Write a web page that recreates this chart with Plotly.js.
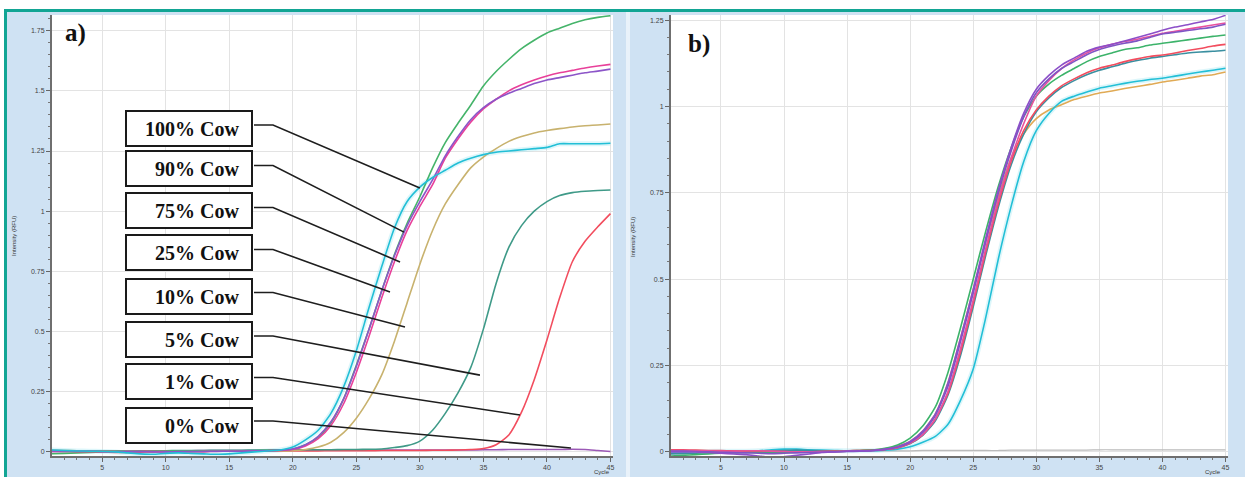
<!DOCTYPE html>
<html>
<head>
<meta charset="utf-8">
<script src="https://cdn.plot.ly/plotly-3.0.1.min.js"></script>
<style>
html,body{margin:0;padding:0;background:#ffffff;}
#chart{width:1245px;height:477px;}
</style>
</head>
<body>
<div id="chart"></div>
<script>
// ---------- data ----------
const cycles = [1,2,3,4,5,6,7,8,9,10,11,12,13,14,15,16,17,18,19,20,21,22,23,24,25,26,27,28,29,30,31,32,33,34,35,36,37,38,39,40,41,42,43,44,45];
const xTickVals = [5,10,15,20,25,30,35,40,45];

// panel a) dilution series
const a_cyan = [0.008,0.006,0.004,0.003,0.002,0.000,-0.004,-0.008,-0.010,-0.006,-0.004,-0.006,-0.008,-0.010,-0.008,-0.004,0.000,0.004,0.008,
  0.02,0.05,0.09,0.16,0.27,0.42,0.60,0.77,0.93,1.04,1.10,1.14,1.17,1.20,1.22,1.235,1.245,1.25,1.255,1.26,1.265,1.28,1.28,1.28,1.28,1.282];
const a_purple = [0.004,0.004,0.003,0.003,0.002,0.002,0.001,0.001,0.000,0.000,0.001,0.002,0.002,0.003,0.003,0.003,0.004,0.005,0.007,
  0.012,0.03,0.065,0.125,0.22,0.355,0.51,0.67,0.815,0.94,1.04,1.13,1.23,1.31,1.38,1.43,1.465,1.49,1.51,1.53,1.545,1.555,1.565,1.575,1.582,1.59];
const a_magenta = [0.002,0.002,0.001,0.001,0.000,0.000,0.001,0.002,0.002,0.001,0.000,0.000,0.001,0.002,0.003,0.003,0.004,0.005,0.006,
  0.01,0.025,0.055,0.11,0.2,0.33,0.48,0.64,0.79,0.92,1.02,1.11,1.22,1.3,1.37,1.425,1.465,1.5,1.525,1.545,1.562,1.575,1.585,1.595,1.603,1.61];
const a_green = [-0.008,-0.006,-0.004,-0.002,0.0,0.002,0.002,0.003,0.003,0.004,0.004,0.003,0.003,0.004,0.004,0.005,0.005,0.006,0.007,
  0.012,0.03,0.06,0.12,0.22,0.36,0.51,0.67,0.82,0.95,1.06,1.18,1.285,1.365,1.44,1.52,1.58,1.63,1.675,1.71,1.74,1.76,1.78,1.795,1.805,1.812];
const a_tan = [0.004,0.004,0.004,0.003,0.003,0.003,0.003,0.002,0.002,0.002,0.002,0.002,0.002,0.003,0.003,0.003,0.003,0.004,0.004,0.005,
  0.01,0.02,0.04,0.08,0.14,0.22,0.32,0.46,0.62,0.78,0.92,1.03,1.11,1.18,1.225,1.26,1.29,1.31,1.325,1.335,1.343,1.35,1.355,1.358,1.362];
const a_teal = [0.006,0.006,0.005,0.005,0.005,0.004,0.004,0.004,0.005,0.005,0.006,0.006,0.006,0.007,0.007,0.007,0.008,0.008,0.008,0.008,0.009,0.009,0.009,0.01,0.01,0.011,
  0.012,0.018,0.026,0.045,0.09,0.16,0.245,0.35,0.51,0.7,0.85,0.94,1.0,1.04,1.065,1.077,1.083,1.086,1.088];
const a_red = [0.006,0.005,0.004,0.002,0.0,-0.002,-0.002,-0.001,0.0,0.001,0.002,0.002,0.002,0.003,0.003,0.003,0.003,0.003,0.004,0.004,0.004,0.004,0.005,0.005,0.005,0.005,0.006,0.006,0.006,0.006,0.007,0.007,
  0.008,0.01,0.014,0.03,0.07,0.165,0.3,0.465,0.64,0.79,0.875,0.935,0.99];
const a_zero = [0.002,0.002,0.003,0.003,0.004,0.004,0.004,0.005,0.005,0.005,0.005,0.005,0.006,0.006,0.006,0.006,0.006,0.006,0.007,0.007,
  0.007,0.007,0.007,0.007,0.008,0.008,0.008,0.008,0.008,0.008,0.008,0.008,0.008,0.008,0.009,0.009,0.01,0.01,0.01,0.01,0.01,0.011,0.01,0.006,0.002];

// panel b) replicates
const b_green = [-0.012,-0.01,-0.008,-0.006,-0.004,-0.003,-0.002,-0.002,-0.002,-0.002,-0.001,0.0,0.0,0.001,0.002,0.003,0.005,
  0.01,0.02,0.04,0.075,0.13,0.23,0.36,0.5,0.64,0.77,0.88,0.97,1.03,1.065,1.09,1.11,1.13,1.145,1.155,1.165,1.17,1.178,1.183,1.188,1.193,1.198,1.203,1.207];
const b_purple1 = [0.0,0.0,0.0,-0.002,-0.004,-0.006,-0.008,-0.012,-0.016,-0.014,-0.01,-0.006,-0.002,0.0,0.002,0.003,0.004,
  0.008,0.015,0.03,0.06,0.11,0.2,0.33,0.47,0.62,0.76,0.88,0.98,1.05,1.09,1.12,1.14,1.16,1.172,1.18,1.19,1.2,1.21,1.221,1.23,1.237,1.245,1.252,1.264];
const b_purple2 = [0.002,0.002,0.001,0.0,-0.001,-0.002,-0.003,-0.004,-0.005,-0.004,-0.003,-0.002,-0.001,0.0,0.001,0.002,0.003,
  0.007,0.014,0.028,0.056,0.105,0.19,0.32,0.46,0.61,0.75,0.87,0.97,1.04,1.08,1.11,1.13,1.15,1.165,1.175,1.183,1.19,1.2,1.21,1.215,1.22,1.225,1.23,1.238];
const b_pink = [0.004,0.004,0.003,0.003,0.002,0.002,0.003,0.003,0.002,0.001,0.0,0.0,0.001,0.001,0.002,0.003,0.004,
  0.007,0.013,0.026,0.05,0.095,0.175,0.3,0.44,0.59,0.73,0.85,0.95,1.03,1.075,1.11,1.135,1.155,1.17,1.18,1.188,1.195,1.203,1.212,1.218,1.224,1.23,1.236,1.242];
const b_red = [0.006,0.006,0.005,0.004,0.004,0.003,0.002,0.002,0.001,0.001,0.0,0.0,0.001,0.002,0.003,0.004,0.005,
  0.007,0.012,0.025,0.05,0.095,0.17,0.29,0.43,0.58,0.72,0.84,0.93,0.99,1.03,1.06,1.08,1.098,1.111,1.12,1.13,1.138,1.145,1.149,1.155,1.162,1.168,1.175,1.18];
const b_teal = [-0.006,-0.005,-0.004,-0.003,-0.002,-0.002,-0.001,0.0,0.002,0.004,0.005,0.004,0.003,0.003,0.003,0.004,0.005,
  0.007,0.012,0.024,0.048,0.09,0.165,0.28,0.42,0.57,0.71,0.83,0.92,0.985,1.025,1.055,1.075,1.092,1.105,1.115,1.125,1.133,1.14,1.145,1.15,1.155,1.158,1.16,1.163];
const b_cyan = [0.0,0.0,0.001,0.001,0.002,0.002,0.002,0.003,0.006,0.008,0.008,0.006,0.005,0.004,0.003,0.003,0.003,
  0.005,0.008,0.015,0.028,0.045,0.08,0.15,0.24,0.39,0.56,0.71,0.84,0.93,0.98,1.015,1.03,1.042,1.053,1.06,1.067,1.073,1.078,1.082,1.088,1.094,1.1,1.105,1.111];
const b_tan = [0.003,0.003,0.003,0.002,0.002,0.002,0.002,0.002,0.002,0.002,0.002,0.002,0.002,0.003,0.003,0.004,0.005,
  0.009,0.016,0.03,0.06,0.11,0.2,0.33,0.47,0.61,0.74,0.85,0.92,0.965,0.99,1.005,1.02,1.03,1.039,1.045,1.052,1.058,1.064,1.071,1.076,1.082,1.088,1.092,1.1];
const b_ntc = [0.003,0.003,0.003,0.003,0.003,0.003,0.003,0.003,0.003,0.003,0.003,0.003,0.003,0.003,0.003,0.003,0.003,0.003,0.003,0.003,
  0.004,0.004,0.004,0.004,0.004,0.004,0.004,0.005,0.005,0.005,0.005,0.005,0.005,0.005,0.006,0.006,0.006,0.006,0.006,0.006,0.006,0.006,0.006,0.006,0.006];

// leader labels (panel a)
const annotLabels = ['100% Cow','90% Cow','75% Cow','25% Cow','10% Cow','5% Cow','1% Cow','0% Cow'];
const annotTargetCycle = [30.0, 28.75, 28.44, 27.65, 28.83, 34.73, 37.88, 41.89];
const annotTargetValue = [1.096, 0.913, 0.789, 0.664, 0.519, 0.319, 0.153, 0.016];

// ---------- layout helpers (pixel geometry of the page) ----------
const W = 1245, H = 477;
const plotTop = 15, plotBot = 456;
const axA = {x0: 52, x1: 613, r: [1.05, 45.2], yr: [-0.017, 1.815]};
const axB = {x0: 671, x1: 1228, r: [1.04, 45.2], yr: [-0.012, 1.265]};
const pxToCycA = px => axA.r[0] + (px - axA.x0) * (axA.r[1] - axA.r[0]) / (axA.x1 - axA.x0);
const pyToValA = py => axA.yr[0] + (plotBot - py) * (axA.yr[1] - axA.yr[0]) / (plotBot - plotTop);

const boxCenterX = 189;
const boxCenterY = [128, 168.5, 210.5, 252.5, 296, 339.5, 381.5, 425];
const leaderY = [125, 165.5, 207.5, 249.5, 292.5, 336, 377.5, 421];
const leaderStartX = 254, leaderBendX = 273;

// ---------- traces ----------
function tr(y, color, ax, w, op) {
  return {x: cycles, y: y, type: 'scatter', mode: 'lines', xaxis: ax === 'b' ? 'x2' : 'x', yaxis: ax === 'b' ? 'y2' : 'y',
    line: {color: color, width: w || 1.6, shape: 'spline', smoothing: 0.6}, opacity: op || 1, hoverinfo: 'skip', showlegend: false};
}
const data = [
  // halos (blurred look of the original scan)
  tr(a_cyan, '#8fe0ee', 'a', 5, 0.3),
  tr(b_cyan, '#8fe0ee', 'b', 5, 0.3),
  tr(a_zero, '#9b59b6', 'a'),
  tr(a_red, '#f24d5e', 'a'),
  tr(a_teal, '#3f9a88', 'a'),
  tr(a_tan, '#c8b26e', 'a'),
  tr(a_green, '#45b46a', 'a'),
  tr(a_magenta, '#e8409a', 'a'),
  tr(a_purple, '#8c55c8', 'a'),
  tr(a_cyan, '#22bfd6', 'a'),
  tr(b_ntc, '#bbbbbb', 'b', 1.2),
  tr(b_tan, '#e0aa55', 'b'),
  tr(b_cyan, '#22bfd6', 'b'),
  tr(b_teal, '#3a8fa0', 'b'),
  tr(b_red, '#f24d5e', 'b'),
  tr(b_green, '#3cb36a', 'b'),
  tr(b_pink, '#e8509e', 'b'),
  tr(b_purple2, '#7f55c4', 'b'),
  tr(b_purple1, '#8c4fc8', 'b')
];

// ---------- axes ----------
const tickFont = {family: 'Liberation Sans, Arial, sans-serif', size: 7, color: '#444'};
function xAxis(a, anchor) {
  return {domain: [a.x0 / W, a.x1 / W], range: a.r, anchor: anchor, tickmode: 'array', tickvals: xTickVals,
    ticks: 'outside', ticklen: 4, tickwidth: 1, tickcolor: '#666', showline: true, linecolor: '#6f6f6f', linewidth: 2,
    showgrid: true, gridcolor: '#e3e3e3', gridwidth: 1, zeroline: false, tickfont: tickFont,
    minor: {dtick: 1, tick0: 0, ticks: 'outside', ticklen: 2, tickcolor: '#777', showgrid: false}, fixedrange: true};
}
function yAxis(a, anchor) {
  return {domain: [1 - plotBot / H, 1 - plotTop / H], range: a.yr, anchor: anchor, tick0: 0, dtick: 0.25,
    ticks: 'outside', ticklen: 4, tickwidth: 1, tickcolor: '#666', showline: true, linecolor: '#6f6f6f', linewidth: 2,
    showgrid: true, gridcolor: '#e3e3e3', gridwidth: 1, zeroline: false, tickfont: tickFont,
    minor: {dtick: 0.05, tick0: 0, ticks: 'outside', ticklen: 2, tickcolor: '#777', showgrid: false}, fixedrange: true};
}

// ---------- decorations ----------
const shapes = [
  {type: 'rect', xref: 'paper', yref: 'paper', x0: 0, x1: 1, y0: 1 - 9 / H, y1: 1, fillcolor: '#ffffff', line: {width: 0}},
  {type: 'rect', xref: 'paper', yref: 'paper', x0: 0, x1: 1, y0: 1 - 12 / H, y1: 1 - 9 / H, fillcolor: '#12a594', line: {width: 0}},
  {type: 'rect', xref: 'paper', yref: 'paper', x0: 0, x1: 4 / W, y0: 0, y1: 1, fillcolor: '#ffffff', line: {width: 0}},
  {type: 'rect', xref: 'paper', yref: 'paper', x0: 4 / W, x1: 7 / W, y0: 0, y1: 1 - 9 / H, fillcolor: '#12a594', line: {width: 0}},
  {type: 'rect', xref: 'paper', yref: 'paper', x0: 626 / W, x1: 630 / W, y0: 0, y1: 1 - 12 / H, fillcolor: '#e9f2fa', line: {width: 0}}
];
const annotations = [];
annotLabels.forEach((lab, i) => {
  const ly = pyToValA(leaderY[i]);
  shapes.push({type: 'path', xref: 'x', yref: 'y',
    path: 'M ' + pxToCycA(leaderStartX) + ',' + ly + ' L ' + pxToCycA(leaderBendX) + ',' + ly + ' L ' + annotTargetCycle[i] + ',' + annotTargetValue[i],
    line: {color: '#1e1e1e', width: 1.6}});
  annotations.push({xref: 'paper', yref: 'paper', x: boxCenterX / W, y: 1 - boxCenterY[i] / H, xanchor: 'center', yanchor: 'middle',
    text: '<b>' + lab + '\u00a0\u00a0</b>', showarrow: false, align: 'right', width: 120, height: 29,
    bgcolor: '#ffffff', bordercolor: '#1a1a1a', borderwidth: 2, borderpad: 2,
    font: {family: 'Liberation Serif, Times New Roman, serif', size: 20, color: '#111'}});
});
const panelFont = {family: 'Liberation Serif, Times New Roman, serif', size: 25, color: '#111'};
annotations.push({xref: 'paper', yref: 'paper', x: 63 / W, y: 1 - 33 / H, xanchor: 'left', yanchor: 'middle', text: '<b>a)</b>', showarrow: false, font: panelFont});
annotations.push({xref: 'paper', yref: 'paper', x: 686 / W, y: 1 - 44 / H, xanchor: 'left', yanchor: 'middle', text: '<b>b)</b>', showarrow: false, font: panelFont});
const smallFont = {family: 'Liberation Sans, Arial, sans-serif', size: 6, color: '#333'};
annotations.push({xref: 'paper', yref: 'paper', x: 14 / W, y: 1 - 236 / H, xanchor: 'center', yanchor: 'middle', text: 'Intensity (RFU)', textangle: -90, showarrow: false, font: smallFont});
annotations.push({xref: 'paper', yref: 'paper', x: 633 / W, y: 1 - 237 / H, xanchor: 'center', yanchor: 'middle', text: 'Intensity (RFU)', textangle: -90, showarrow: false, font: smallFont});
annotations.push({xref: 'paper', yref: 'paper', x: 602 / W, y: 1 - 472 / H, xanchor: 'center', yanchor: 'middle', text: 'Cycle', showarrow: false, font: smallFont});
annotations.push({xref: 'paper', yref: 'paper', x: 1213 / W, y: 1 - 472 / H, xanchor: 'center', yanchor: 'middle', text: 'Cycle', showarrow: false, font: smallFont});

const layout = {
  width: W, height: H, margin: {l: 0, r: 0, t: 0, b: 0, pad: 0},
  paper_bgcolor: '#cfe2f3', plot_bgcolor: '#ffffff', showlegend: false,
  xaxis: xAxis(axA, 'y'), yaxis: yAxis(axA, 'x'),
  xaxis2: xAxis(axB, 'y2'), yaxis2: yAxis(axB, 'x2'),
  shapes: shapes, annotations: annotations
};
Plotly.newPlot('chart', data, layout, {displayModeBar: false, staticPlot: true});
</script>
</body>
</html>
